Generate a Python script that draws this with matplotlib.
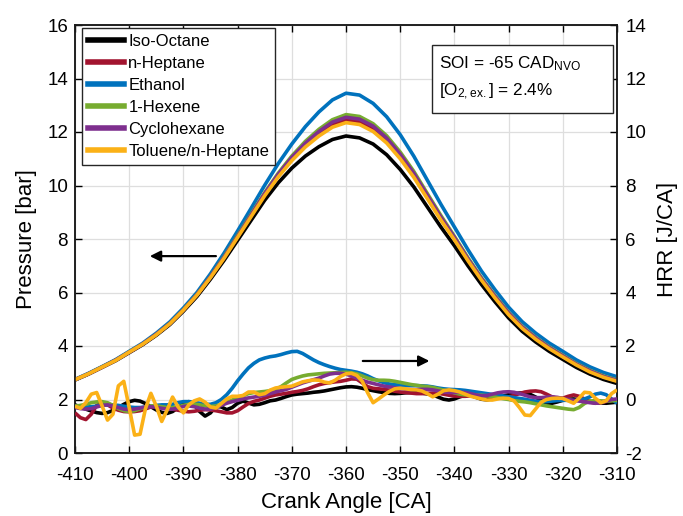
import numpy as np
import matplotlib
matplotlib.use("Agg")
import matplotlib.pyplot as plt
from matplotlib.patches import Rectangle
from matplotlib.lines import Line2D

plt.rcParams['font.family'] = ['Liberation Sans', 'DejaVu Sans']
plt.rcParams['mathtext.default'] = 'regular'
plt.rcParams['axes.unicode_minus'] = False

# ---- crank angle samples ----
ca_p = np.arange(-410, -309.9, 2.5)   # pressure traces
ca_h = np.arange(-410, -309, 1.0)     # heat release traces

fuels = ['Iso-Octane', 'n-Heptane', 'Ethanol', '1-Hexene', 'Cyclohexane', 'Toluene/n-Heptane']
colors = ['#000000', '#A2142F', '#0072BD', '#77AC30', '#7E2F8E', '#FBB117']

# ---- in-cylinder pressure [bar] ----
p_isooctane = [2.73, 2.95, 3.20, 3.45, 3.75, 4.05, 4.40, 4.80, 5.30, 5.85,
               6.50, 7.20, 7.95, 8.70, 9.45, 10.10, 10.65, 11.10, 11.45, 11.72,
               11.85, 11.78, 11.55, 11.15, 10.60, 9.95, 9.20, 8.45, 7.75, 7.00,
               6.30, 5.65, 5.05, 4.55, 4.15, 3.80, 3.50, 3.20, 2.95, 2.75,
               2.60]
p_heptane = [2.74, 2.96, 3.21, 3.47, 3.77, 4.07, 4.43, 4.84, 5.35, 5.91,
             6.58, 7.30, 8.08, 8.87, 9.66, 10.37, 10.99, 11.52, 11.94, 12.28,
             12.45, 12.39, 12.13, 11.69, 11.09, 10.39, 9.58, 8.77, 8.02, 7.23,
             6.49, 5.82, 5.20, 4.69, 4.28, 3.92, 3.61, 3.31, 3.05, 2.85,
             2.70]
p_ethanol = [2.75, 2.98, 3.23, 3.49, 3.80, 4.11, 4.48, 4.90, 5.42, 6.00,
             6.70, 7.47, 8.30, 9.15, 10.01, 10.82, 11.55, 12.20, 12.75, 13.20,
             13.45, 13.38, 13.07, 12.57, 11.90, 11.10, 10.20, 9.30, 8.45, 7.60,
             6.80, 6.10, 5.45, 4.91, 4.48, 4.11, 3.80, 3.48, 3.22, 3.01,
             2.85]
p_hexene = [2.74, 2.96, 3.22, 3.47, 3.78, 4.08, 4.44, 4.85, 5.36, 5.93,
            6.60, 7.34, 8.13, 8.93, 9.73, 10.46, 11.10, 11.65, 12.10, 12.46,
            12.65, 12.58, 12.31, 11.86, 11.25, 10.53, 9.70, 8.88, 8.10, 7.30,
            6.55, 5.88, 5.25, 4.73, 4.32, 3.96, 3.65, 3.34, 3.09, 2.88,
            2.73]
p_cyclohexane = [2.74, 2.96, 3.21, 3.47, 3.77, 4.08, 4.44, 4.84, 5.35, 5.92,
                 6.59, 7.32, 8.10, 8.90, 9.70, 10.42, 11.05, 11.58, 12.02, 12.37,
                 12.55, 12.48, 12.22, 11.77, 11.17, 10.46, 9.64, 8.82, 8.06, 7.26,
                 6.52, 5.85, 5.23, 4.71, 4.30, 3.94, 3.63, 3.32, 3.07, 2.86,
                 2.71]
p_toluene = [2.74, 2.96, 3.21, 3.46, 3.77, 4.07, 4.42, 4.83, 5.34, 5.90,
             6.56, 7.28, 8.06, 8.84, 9.62, 10.32, 10.93, 11.44, 11.85, 12.18,
             12.35, 12.28, 12.02, 11.59, 11.00, 10.31, 9.51, 8.71, 7.97, 7.19,
             6.46, 5.79, 5.17, 4.66, 4.25, 3.90, 3.59, 3.29, 3.03, 2.83,
             2.68]

# ---- apparent heat release rate [J/CA] ----
h_isooctane = [-0.20, -0.28, -0.36, -0.43, -0.49, -0.52, -0.49, -0.41, -0.30, -0.18,
               -0.08, -0.03, -0.06, -0.15, -0.27, -0.39, -0.48, -0.52, -0.45, -0.31,
               -0.16, -0.08, -0.20, -0.45, -0.62, -0.50, -0.25, -0.28, -0.38, -0.30,
               -0.14, -0.06, -0.13, -0.20, -0.18, -0.12, -0.05, -0.02, 0.04, 0.11,
               0.17, 0.20, 0.22, 0.24, 0.27, 0.29, 0.32, 0.36, 0.40, 0.44,
               0.47, 0.48, 0.46, 0.42, 0.37, 0.33, 0.29, 0.26, 0.23, 0.22,
               0.23, 0.25, 0.26, 0.26, 0.24, 0.21, 0.17, 0.09, 0.01, -0.02,
               0.02, 0.10, 0.16, 0.15, 0.08, 0.01, -0.01, 0.03, 0.08, 0.13,
               0.18, 0.22, 0.24, 0.24, 0.19, 0.09, -0.04, -0.13, -0.14, -0.09,
               -0.03, 0.01, 0.02, -0.01, -0.05, -0.07, -0.10, -0.13, -0.14, -0.12,
               -0.10]
h_heptane = [-0.50, -0.68, -0.75, -0.55, -0.22, -0.12, -0.20, -0.32, -0.40, -0.45,
             -0.46, -0.45, -0.42, -0.35, -0.28, -0.25, -0.28, -0.32, -0.36, -0.40,
             -0.44, -0.46, -0.44, -0.40, -0.38, -0.39, -0.42, -0.46, -0.50, -0.50,
             -0.42, -0.28, -0.15, -0.07, -0.02, 0.05, 0.12, 0.17, 0.20, 0.23,
             0.27, 0.30, 0.34, 0.40, 0.48, 0.55, 0.60, 0.63, 0.66, 0.68,
             0.72, 0.77, 0.76, 0.62, 0.48, 0.42, 0.40, 0.38, 0.35, 0.31,
             0.28, 0.26, 0.24, 0.22, 0.22, 0.23, 0.24, 0.23, 0.20, 0.16,
             0.13, 0.12, 0.12, 0.14, 0.16, 0.16, 0.13, 0.09, 0.07, 0.08,
             0.10, 0.15, 0.22, 0.28, 0.31, 0.32, 0.29, 0.20, 0.10, 0.04,
             0.05, 0.12, 0.17, 0.12, 0.02, -0.09, -0.14, -0.12, -0.07, -0.03,
             -0.02]
h_ethanol = [-0.25, -0.27, -0.28, -0.27, -0.25, -0.22, -0.20, -0.20, -0.22, -0.25,
             -0.28, -0.30, -0.30, -0.28, -0.25, -0.22, -0.20, -0.20, -0.18, -0.12,
             -0.08, -0.08, -0.10, -0.14, -0.18, -0.18, -0.12, 0.00, 0.18, 0.42,
             0.70, 0.95, 1.18, 1.35, 1.48, 1.55, 1.60, 1.63, 1.68, 1.74,
             1.79, 1.80, 1.72, 1.60, 1.48, 1.38, 1.30, 1.23, 1.17, 1.12,
             1.09, 1.06, 1.02, 0.96, 0.88, 0.78, 0.70, 0.63, 0.58, 0.55,
             0.54, 0.53, 0.52, 0.52, 0.51, 0.50, 0.47, 0.43, 0.40, 0.38,
             0.37, 0.36, 0.34, 0.31, 0.28, 0.25, 0.22, 0.19, 0.16, 0.13,
             0.10, 0.07, 0.04, 0.01, -0.03, -0.06, -0.08, -0.08, -0.06, -0.04,
             -0.03, -0.03, -0.04, -0.03, 0.02, 0.10, 0.20, 0.24, 0.18, 0.02,
             -0.14]
h_hexene = [-0.25, -0.22, -0.18, -0.12, -0.09, -0.08, -0.12, -0.22, -0.34, -0.42,
            -0.45, -0.42, -0.35, -0.28, -0.24, -0.24, -0.27, -0.30, -0.30, -0.27,
            -0.22, -0.18, -0.17, -0.20, -0.24, -0.26, -0.24, -0.18, -0.10, -0.02,
            0.06, 0.14, 0.22, 0.26, 0.28, 0.30, 0.33, 0.38, 0.48, 0.62,
            0.75, 0.82, 0.88, 0.92, 0.94, 0.96, 0.98, 0.99, 1.00, 1.01,
            1.02, 1.00, 0.96, 0.88, 0.80, 0.74, 0.72, 0.72, 0.71, 0.68,
            0.64, 0.60, 0.56, 0.53, 0.50, 0.48, 0.45, 0.40, 0.35, 0.30,
            0.25, 0.20, 0.17, 0.16, 0.16, 0.16, 0.14, 0.11, 0.07, 0.03,
            0.00, -0.04, -0.07, -0.09, -0.12, -0.16, -0.20, -0.24, -0.27, -0.30,
            -0.33, -0.36, -0.38, -0.30, -0.15, -0.06, -0.04, -0.05, -0.06, -0.05,
            -0.03]
h_cyclohexane = [-0.30, -0.34, -0.36, -0.34, -0.28, -0.22, -0.20, -0.24, -0.30, -0.36,
                 -0.38, -0.36, -0.32, -0.28, -0.27, -0.29, -0.33, -0.36, -0.36, -0.32,
                 -0.26, -0.24, -0.27, -0.32, -0.36, -0.36, -0.30, -0.22, -0.14, -0.08,
                 -0.03, 0.02, 0.06, 0.09, 0.12, 0.16, 0.22, 0.28, 0.33, 0.38,
                 0.46, 0.54, 0.62, 0.68, 0.74, 0.80, 0.88, 0.95, 0.98, 0.98,
                 0.95, 0.88, 0.80, 0.72, 0.65, 0.60, 0.55, 0.50, 0.47, 0.44,
                 0.41, 0.38, 0.37, 0.37, 0.38, 0.38, 0.36, 0.32, 0.28, 0.26,
                 0.26, 0.27, 0.26, 0.22, 0.17, 0.14, 0.15, 0.20, 0.25, 0.28,
                 0.29, 0.27, 0.22, 0.16, 0.10, 0.07, 0.07, 0.09, 0.10, 0.08,
                 0.04, 0.00, -0.03, -0.06, -0.09, -0.12, -0.14, -0.12, -0.06, 0.00,
                 0.02]
h_toluene = [-0.25, -0.33, -0.12, 0.20, 0.26, -0.24, -0.77, -0.55, 0.51, 0.68,
             -0.30, -1.33, -1.30, -0.34, 0.23, -0.25, -0.82, -0.39, 0.09, -0.27,
             -0.50, -0.20, -0.05, 0.02, -0.10, -0.28, -0.32, -0.15, 0.02, 0.12,
             0.12, 0.15, 0.28, 0.28, 0.18, 0.22, 0.35, 0.43, 0.46, 0.48,
             0.50, 0.58, 0.66, 0.70, 0.73, 0.72, 0.65, 0.62, 0.72, 0.86,
             0.96, 0.98, 0.90, 0.68, 0.25, -0.12, 0.02, 0.17, 0.30, 0.40,
             0.42, 0.40, 0.37, 0.36, 0.32, 0.22, 0.10, 0.20, 0.33, 0.36,
             0.33, 0.28, 0.20, 0.12, 0.07, 0.02, -0.02, -0.02, 0.02, 0.05,
             0.04, -0.05, -0.30, -0.58, -0.60, -0.35, -0.10, 0.00, 0.04, 0.05,
             0.04, -0.05, -0.14, 0.05, 0.27, 0.25, 0.05, -0.12, -0.05, 0.22,
             0.36]

pressure = [p_isooctane, p_heptane, p_ethanol, p_hexene, p_cyclohexane, p_toluene]
hrr = [h_isooctane, h_heptane, h_ethanol, h_hexene, h_cyclohexane, h_toluene]

fig = plt.figure(figsize=(6.83, 5.16), dpi=100)
ax = fig.add_axes([75 / 683, 63 / 516, 542 / 683, 428 / 516])
ax2 = ax.twinx()

lw = 2.6
draw_order = [1, 2, 3, 4, 5, 0]  # black drawn last, on top
for i in draw_order:
    ax.plot(ca_p, pressure[i], color=colors[i], lw=lw, solid_capstyle='butt', zorder=3 + i / 10)
    ax2.plot(ca_h, hrr[i], color=colors[i], lw=lw, solid_capstyle='butt', zorder=3 + i / 10)

ax.set_xlim(-410, -310)
ax.set_ylim(0, 16)
ax2.set_ylim(-2, 14)
ax.set_xticks(np.arange(-410, -309, 10))
ax.set_yticks(np.arange(0, 17, 2))
ax2.set_yticks(np.arange(-2, 15, 2))

ax.grid(True, color='#dedede', lw=0.9)
ax.set_axisbelow(True)

for a in (ax, ax2):
    for s in a.spines.values():
        s.set_linewidth(1.1)
        s.set_color('#1a1a1a')
ax.tick_params(direction='in', length=5, width=1.0, labelsize=13.5, top=True, right=False)
ax.tick_params(axis='x', pad=10)
ax.tick_params(axis='y', pad=5)
ax2.tick_params(direction='in', length=5, width=1.0, labelsize=13.5, pad=6)

ax.set_xlabel('Crank Angle [CA]', fontsize=16, labelpad=6)
ax.set_ylabel('Pressure [bar]', fontsize=16, labelpad=7)
ax2.set_ylabel('HRR [J/CA]', fontsize=16, labelpad=8)

# legend
handles = [Line2D([], [], color=c, lw=4) for c in colors]
leg = ax2.legend(handles, fuels, loc='upper left', bbox_to_anchor=(0.012, 0.993),
                 borderaxespad=0, fancybox=False, edgecolor='#262626', framealpha=1,
                 fontsize=12, handlelength=2.2, handletextpad=0.25,
                 labelspacing=0.42, borderpad=0.36)
leg.get_frame().set_linewidth(1.0)
leg.set_zorder(10)

# operating conditions box
ax2.add_patch(Rectangle((0.658, 0.794), 0.335, 0.159, transform=ax2.transAxes,
                        facecolor='white', edgecolor='#262626', lw=1.0, zorder=9))
ax2.text(0.672, 0.898, 'SOI = -65 CAD$_{NVO}$', transform=ax2.transAxes,
         fontsize=12.3, va='baseline', ha='left', zorder=11)
ax2.text(0.672, 0.834, '[O$_{2,ex.}$] = 2.4%', transform=ax2.transAxes,
         fontsize=12.3, va='baseline', ha='left', zorder=11)

# axis-association arrows
arrow = dict(arrowstyle='-|>', color='black', lw=1.6, mutation_scale=16, shrinkA=0, shrinkB=0)
ax.annotate('', xy=(-396.2, 7.36), xytext=(-384.0, 7.36), arrowprops=arrow)
ax.annotate('', xy=(-344.6, 3.44), xytext=(-356.9, 3.44), arrowprops=arrow)

fig.savefig('out.png', dpi=100)
